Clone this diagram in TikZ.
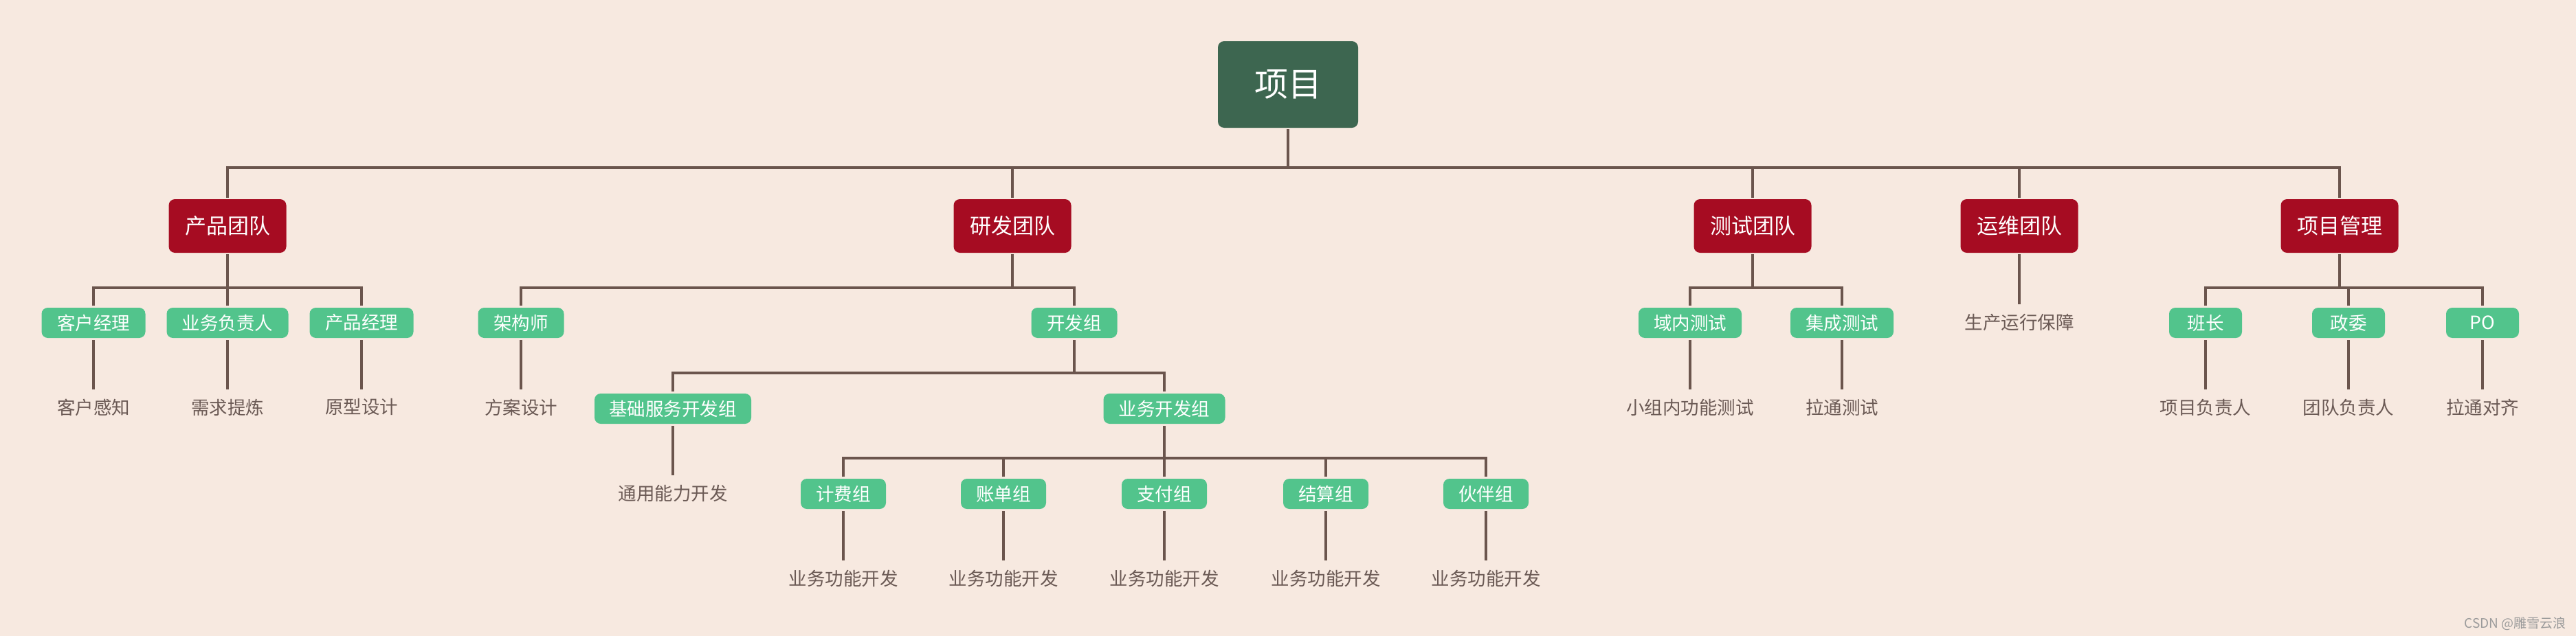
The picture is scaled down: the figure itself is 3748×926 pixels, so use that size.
\documentclass[tikz,border=0pt]{standalone}
\usepackage{fontspec}
\setmainfont{Noto Sans CJK SC}
\definecolor{bgc}{RGB}{247,233,224}
\definecolor{rootc}{RGB}{61,102,80}
\definecolor{redc}{RGB}{166,12,34}
\definecolor{greenc}{RGB}{82,196,140}
\definecolor{linec}{RGB}{107,85,77}
\definecolor{leafc}{RGB}{107,90,85}
\definecolor{markc}{RGB}{155,155,155}
\tikzset{
  rootbox/.style={fill=rootc, rounded corners=9pt, minimum width=204pt, minimum height=126pt, inner sep=0pt, outer sep=2pt, text=white, font=\fontsize{49}{55}\selectfont},
  teambox/.style={fill=redc, rounded corners=9pt, minimum width=171pt, minimum height=78pt, inner sep=0pt, outer sep=2pt, text=white, font=\fontsize{31}{36}\selectfont},
  rolebox/.style={fill=greenc, rounded corners=9pt, minimum width=#1, minimum height=44pt, inner sep=0pt, outer sep=3pt, text=white, font=\fontsize{26.5}{30}\selectfont},
  leaftext/.style={text=leafc, minimum height=52pt, inner sep=0pt, font=\fontsize{26.5}{30}\selectfont},
  link/.style={draw=linec, line width=4pt},
}
\begin{document}
\begin{tikzpicture}[x=1pt, y=-1pt]
\fill[bgc] (0,0) rectangle (3748,926);
\useasboundingbox (0,0) rectangle (3748,926);

% root
\node[rootbox] (root) at (1874,123) {项目};
\coordinate (bus0) at (0,244);

% teams
\node[teambox] (prod) at (331,329) {产品团队};
\node[teambox] (rd)   at (1473,329) {研发团队};
\node[teambox] (test) at (2550,329) {测试团队};
\node[teambox] (ops)  at (2938,329) {运维团队};
\node[teambox] (pm)   at (3404,329) {项目管理};

\foreach \t in {prod,rd,test,ops,pm}
  \draw[link] (\t.north) -- (\t.north |- bus0) -| (root.south);

\coordinate (bus1) at (0,419);

% product team
\node[rolebox=151pt] (kh) at (136,470) {客户经理};
\node[rolebox=177pt] (yw) at (331,470) {业务负责人};
\node[rolebox=151pt] (cp) at (526,470) {产品经理};
\node[leaftext] (khl) at (136,593) {客户感知};
\node[leaftext] (ywl) at (331,593) {需求提炼};
\node[leaftext] (cpl) at (526,593) {原型设计};
\foreach \c in {kh,yw,cp}
  \draw[link] (\c.north) -- (\c.north |- bus1) -| (prod.south);
\draw[link] (kh) -- (khl);
\draw[link] (yw) -- (ywl);
\draw[link] (cp) -- (cpl);

% R&D team
\node[rolebox=125pt] (jg) at (758,470) {架构师};
\node[rolebox=125pt] (kf) at (1563,470) {开发组};
\node[leaftext] (jgl) at (758,593) {方案设计};
\foreach \c in {jg,kf}
  \draw[link] (\c.north) -- (\c.north |- bus1) -| (rd.south);
\draw[link] (jg) -- (jgl);

\coordinate (bus2) at (0,543);
\node[rolebox=228pt] (jc) at (979,595) {基础服务开发组};
\node[rolebox=177pt] (ywk) at (1694,595) {业务开发组};
\foreach \c in {jc,ywk}
  \draw[link] (\c.north) -- (\c.north |- bus2) -| (kf.south);
\node[leaftext] (jcl) at (979,718) {通用能力开发};
\draw[link] (jc) -- (jcl);

\coordinate (bus3) at (0,667);
\node[rolebox=124pt] (g1) at (1227,719) {计费组};
\node[rolebox=124pt] (g2) at (1460,719) {账单组};
\node[rolebox=124pt] (g3) at (1694,719) {支付组};
\node[rolebox=124pt] (g4) at (1929,719) {结算组};
\node[rolebox=124pt] (g5) at (2162,719) {伙伴组};
\foreach \g/\x in {g1/1227,g2/1460,g3/1694,g4/1929,g5/2162} {
  \draw[link] (\g.north) -- (\g.north |- bus3) -| (ywk.south);
  \node[leaftext] (\g l) at (\x,842) {业务功能开发};
  \draw[link] (\g) -- (\g l);
}

% test team
\node[rolebox=150pt] (ynt) at (2459,470) {域内测试};
\node[rolebox=150pt] (jct) at (2680,470) {集成测试};
\node[leaftext] (yntl) at (2459,593) {小组内功能测试};
\node[leaftext] (jctl) at (2680,593) {拉通测试};
\foreach \c in {ynt,jct}
  \draw[link] (\c.north) -- (\c.north |- bus1) -| (test.south);
\draw[link] (ynt) -- (yntl);
\draw[link] (jct) -- (jctl);

% ops team
\node[leaftext] (opsl) at (2938,469) {生产运行保障};
\draw[link] (ops) -- (opsl);

% project management
\node[rolebox=106pt] (bz) at (3209,470) {班长};
\node[rolebox=106pt] (zw) at (3417,470) {政委};
\node[rolebox=106pt] (po) at (3612,470) {PO};
\node[leaftext] (bzl) at (3209,593) {项目负责人};
\node[leaftext] (zwl) at (3417,593) {团队负责人};
\node[leaftext] (pol) at (3612,593) {拉通对齐};
\foreach \c in {bz,zw,po}
  \draw[link] (\c.north) -- (\c.north |- bus1) -| (pm.south);
\draw[link] (bz) -- (bzl);
\draw[link] (zw) -- (zwl);
\draw[link] (po) -- (pol);

% watermark
\node[text=markc, inner sep=0pt, font=\fontsize{19}{22}\selectfont, anchor=east] (wm) at (3734,908) {CSDN @雕雪云浪};
\end{tikzpicture}
\end{document}
